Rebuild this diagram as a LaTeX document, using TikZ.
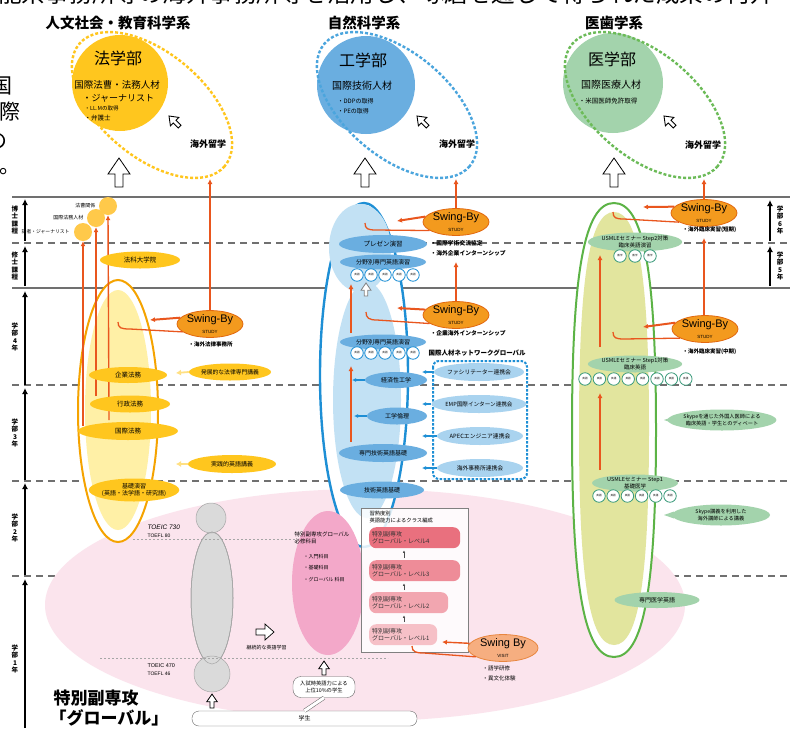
\documentclass[tikz,border=0pt]{standalone}
\usepackage{fontspec}
\setmainfont{Noto Sans CJK JP}
\newfontfamily\latinf{Liberation Sans}
\usetikzlibrary{shapes.geometric,arrows.meta}
\definecolor{lawY}{HTML}{FFC61E}
\definecolor{lawC}{HTML}{FFC94A}
\definecolor{lawO}{HTML}{F5A300}
\definecolor{lawL}{HTML}{FFF0A6}
\definecolor{oraL}{HTML}{E9561E}
\definecolor{swF}{HTML}{F39A1E}
\definecolor{swD}{HTML}{E2680F}
\definecolor{swV}{HTML}{F6AE80}
\definecolor{engB}{HTML}{6AAEE0}
\definecolor{engD}{HTML}{1E8FD5}
\definecolor{engL}{HTML}{C2E1F4}
\definecolor{engM}{HTML}{A9D3EF}
\definecolor{medG}{HTML}{A3D3AC}
\definecolor{medD}{HTML}{5CB346}
\definecolor{medT}{HTML}{3A9A7A}
\definecolor{medL}{HTML}{E2E59E}
\definecolor{pinkBg}{HTML}{FBE4ED}
\definecolor{pinkM}{HTML}{F3A8C9}
\definecolor{lineG}{HTML}{707070}
\definecolor{grayP}{HTML}{DADADA}
\definecolor{redA}{HTML}{E9707E}
\definecolor{redB}{HTML}{EE8C98}
\definecolor{redC}{HTML}{F2A6B0}
\definecolor{redD}{HTML}{F6C0C7}
\newcommand\myfs[2]{\fontsize{#1}{#2}\selectfont}
% #1 options, #2 cx, #3 top, #4 bottom, #5 half width, #6 squareness
\newcommand\ushape[6]{\path[#1] ({#2-#5},{(#3+#4)/2}) .. controls ({#2-#5},{(#3+#4)/2-#6*(#4-#3)/2}) and ({#2-#6*#5},{#3}) .. ({#2},{#3}) .. controls ({#2+#6*#5},{#3}) and ({#2+#5},{(#3+#4)/2-#6*(#4-#3)/2}) .. ({#2+#5},{(#3+#4)/2}) .. controls ({#2+#5},{(#3+#4)/2+#6*(#4-#3)/2}) and ({#2+#6*#5},{#4}) .. ({#2},{#4}) .. controls ({#2-#6*#5},{#4}) and ({#2-#5},{(#3+#4)/2+#6*(#4-#3)/2}) .. cycle;}
\tikzset{
 hline/.style={lineG, line width=1.6pt},
 dline/.style={lineG, line width=1.6pt, dash pattern=on 7pt off 5pt},
 axisarr/.style={line width=2.2pt, -{Latex[length=6pt,width=6pt]}},
 el/.style n args={2}{ellipse, inner sep=0pt, minimum width=#1, minimum height=#2, align=center},
 oarr/.style={oraL, line width=2pt, -{Latex[length=5pt,width=5pt]}},
 ohook/.style={oraL, line width=1.3pt},
 barr/.style={engD, line width=1.5pt, -{Latex[length=4pt,width=4pt]}},
 swing/.style={ellipse, fill=swF, draw=swD, line width=0.8pt, minimum width=66, minimum height=24, inner sep=0pt, align=center},
 dashell/.style={line width=2.4pt, dash pattern=on 3pt off 2pt},
 bigcirc/.style={circle, inner sep=0pt},
 smc/.style={circle, fill=white, minimum size=12.5, inner sep=0pt, line width=0.8pt, font=\myfs{2.6}{3}},
 rbox/.style={rounded corners=7, anchor=north west, inner xsep=3pt, inner ysep=1pt, align=left, font=\myfs{6}{7.5}, text=black!80},
 vlab/.style={align=center, font=\myfs{6.5}{7.2}\bfseries},
 hdr/.style={font=\myfs{14.5}{16}\bfseries},
 ryu/.style={font=\myfs{9}{10}\bfseries},
 hup/.pic={\draw[fill=white, line width=0.8pt] (-4,0) -- (-4,-13) -- (-11,-13) -- (0,-29) -- (11,-13) -- (4,-13) -- (4,0) -- cycle;},
 hright/.pic={\draw[fill=white, line width=0.7pt] (0,-3) -- (9,-3) -- (9,-8) -- (18,0) -- (9,8) -- (9,3) -- (0,3) -- cycle;},
 cursor/.pic={\draw[fill=white, line width=0.9pt] (0,0) -- (6,8) -- (2,8) -- (2,15) -- (-2,15) -- (-2,8) -- (-6,8) -- cycle;},
 smarr/.style={gray!60!black, line width=0.6pt, -{Latex[length=2.5pt,width=2.5pt]}}
}
\begin{document}
\begin{tikzpicture}[x=1pt,y=-1pt]
\useasboundingbox (0,0) rectangle (795,734);
\fill[white] (0,0) rectangle (795,734);
\clip (0,0) rectangle (795,734);

% cut-off text of the page behind
\node[font=\myfs{23.5}{25}, anchor=base west, inner sep=0pt] (toptxt) at (-2,2.5) {能系事務所等の海外事務所等を活用し、啄磨を通じて得られた成果の何升};
\node[font=\myfs{21}{22}, anchor=east, inner sep=0pt] (lc1) at (13,86) {国};
\node[font=\myfs{21}{22}, anchor=east, inner sep=0pt] (lc2) at (21,112) {際};
\node[font=\myfs{21}{22}, anchor=east, inner sep=0pt] (lc3) at (8,141) {の};
\node[font=\myfs{21}{22}, anchor=east, inner sep=0pt] (lc4) at (21,170) {ー。};

% headers
\node[hdr] (h1) at (118,23) {人文社会・教育科学系};
\node[hdr] (h2) at (364,23) {自然科学系};
\node[hdr] (h3) at (614,23) {医歯学系};

% horizontal lines
\draw[hline] (12,197) -- (790,197);
\draw[dline] (12,243) -- (790,243);
\draw[hline] (12,288) -- (790,288);
\draw[dline] (12,385) -- (790,385);
\draw[dline] (12,481) -- (790,481);
\draw[dline] (12,576) -- (790,576);

% axes
\draw[axisarr] (25,241) -- (25,199);
\draw[axisarr] (25,286) -- (25,246);
\draw[axisarr] (25,385) -- (25,291);
\draw[axisarr] (25,480) -- (25,388);
\draw[axisarr] (25,575) -- (25,483);
\draw[axisarr] (25,728) -- (25,579);
\node[vlab] (ax1) at (15,220) {博\\士\\課\\程};
\node[vlab] (ax2) at (15,266) {修\\士\\課\\程};
\node[vlab] (ax3) at (15,337) {学\\部\\4\\年};
\node[vlab] (ax4) at (15,433) {学\\部\\3\\年};
\node[vlab] (ax5) at (15,528) {学\\部\\2\\年};
\node[vlab] (ax6) at (15,659) {学\\部\\1\\年};
\draw[axisarr] (770,241) -- (770,200);
\draw[axisarr] (770,286) -- (770,246);
\node[vlab] (ax7) at (780,220) {学\\部\\6\\年};
\node[vlab] (ax8) at (780,266) {学\\部\\5\\年};

% ===== top goals =====
\node[bigcirc, fill=lawY, minimum size=96] (lawc) at (120,83) {};
\node[bigcirc, fill=engB, minimum size=98] (engc) at (366,85) {};
\node[bigcirc, fill=medG, minimum size=100] (medc) at (613,83) {};
\draw[dashell, lawY, rotate around={-40:(152,105)}] (152,105) ellipse (95 and 52);
\draw[dashell, engD!80, rotate around={-40:(397,105)}] (397,105) ellipse (95 and 52);
\draw[dashell, medD!90, rotate around={-40:(645,105)}] (645,105) ellipse (95 and 52);
\node[font=\myfs{16}{17}] (lawt) at (118,58) {法学部};
\node[font=\myfs{9.5}{10}] (lawt2) at (117,85) {国際法曹・法務人材};
\node[font=\myfs{9}{10}, anchor=west] (lawt3) at (79,98) {・ジャーナリスト};
\node[font=\myfs{5.5}{6}, anchor=west] (lawt4) at (81,108) {・LL.Mの取得};
\node[font=\myfs{6.5}{7}, anchor=west] (lawt5) at (81,118) {・弁護士};
\node[font=\myfs{16}{17}] (engt) at (363,60) {工学部};
\node[font=\myfs{10}{11}] (engt2) at (362,86) {国際技術人材};
\node[font=\myfs{6}{7}, anchor=west] (engt3) at (334,101) {・DDPの取得};
\node[font=\myfs{6}{7}, anchor=west] (engt4) at (334,111) {・PEの取得};
\node[font=\myfs{16}{17}] (medt) at (612,59) {医学部};
\node[font=\myfs{10}{11}] (medt2) at (611,85) {国際医療人材};
\node[font=\myfs{6.5}{7}] (medt3) at (608,101) {・米国医師免許取得};
\pic[rotate=45] at (169,116) {cursor};
\pic[rotate=45] at (417,116) {cursor};
\pic[rotate=45] at (664,116) {cursor};
\node[ryu] (ry1) at (208,144) {海外留学};
\node[ryu] (ry2) at (457,144) {海外留学};
\node[ryu] (ry3) at (703,145) {海外留学};
\pic at (119,187) {hup};
\pic at (365,187) {hup};
\pic at (614,187) {hup};

% ===== big pink ellipse =====
\fill[pinkBg] (365,605) ellipse (320 and 116);

% ===== LAW column =====
\draw[lawO, line width=2pt, fill=white] (118,411) ellipse (40 and 131);
\fill[lawL] (118,410) ellipse (33 and 120);
\node[bigcirc, fill=lawC, minimum size=18] (lc1c) at (108,206) {};
\node[bigcirc, fill=lawC, minimum size=18] (lc2c) at (96,218) {};
\node[bigcirc, fill=lawC, minimum size=18] (lc3c) at (83,232) {};
\node[font=\myfs{5}{6}, anchor=east] (lc1t) at (99,206) {法曹関係};
\node[font=\myfs{5}{6}, anchor=east] (lc2t) at (87,218) {国際法務人材};
\node[font=\myfs{4.8}{6}, anchor=east] (lc3t) at (73,232) {記者・ジャーナリスト};
\coordinate (ls1) at (109,420);
\coordinate (ls2) at (96,396);
\coordinate (ls3) at (83,426);
\draw[oarr, line width=1.4pt] (ls1) -- (lc1c.south);
\draw[oarr, line width=1.4pt] (ls2) -- (lc2c.south);
\draw[oarr, line width=1.4pt] (ls3) -- (lc3c.south);
\node[el={80}{17}, fill=lawY, font=\myfs{6.5}{7}] (lg) at (140,260) {法科大学院};
\node[el={78}{16}, fill=lawY, font=\myfs{6.5}{7}] (l1) at (128,375) {企業法務};
\node[el={80}{17}, fill=lawY, font=\myfs{6.5}{7}] (l2) at (130,404) {行政法務};
\node[el={100}{18}, fill=lawY, font=\myfs{6.5}{7}] (l3) at (128,431) {国際法務};
\node[el={86}{23}, fill=lawY, font=\myfs{6}{7}] (l4) at (134,490) {基礎演習\\(英語・法学語・研究語)};
\node[el={80}{17}, fill=lawY, font=\myfs{5.8}{7}] (l5) at (230,372) {発展的な法律専門講義};
\node[el={88}{18}, fill=lawY, font=\myfs{6}{7}] (l6) at (232,464) {実践的英語講義};
\coordinate (l5t) at (176,373);
\coordinate (l6t) at (176,464);
\draw[lawY!55, line width=1.8pt, -{Latex[length=5pt,width=6pt]}] (l5.west) -- (l5t);
\draw[lawY!55, line width=1.8pt, -{Latex[length=5pt,width=6pt]}] (l6.west) -- (l6t);
\node[swing] (swL) at (210,324) {\latinf\myfs{11}{11}Swing-By\\[-1pt]\latinf\myfs{4.5}{5}STUDY};
\node[font=\myfs{5.5}{6}\bfseries, anchor=west] (swLt) at (185,344) {・海外法律事務所};
\coordinate (lawtop) at (210,179);
\coordinate (lawin) at (150,320);
\coordinate (lawhk) at (118,322);
\draw[oarr] (swL.north) -- (lawtop);
\draw[oarr] (swL.168) -- (lawin);
\draw[ohook] (lawhk) .. controls (118,328) and (121,329) .. (130,329) -- (swL.196);

% ===== ENGINEERING column =====
\draw[engD, line width=2.4pt, fill=white] (364,375) ellipse (44 and 172);
\fill[engL] (360,248) ellipse (31 and 44);
\fill[engL] (367,400) ellipse (34 and 118);
\coordinate (eo1) at (351,333);
\coordinate (eo1t) at (351,284);
\coordinate (eo2) at (351,442);
\coordinate (eo2t) at (351,366);
\draw[oarr, line width=1.4pt] (eo1) -- (eo1t);
\draw[oarr, line width=1.4pt] (eo2) -- (eo2t);
\node[el={88}{18}, fill=engB, font=\myfs{6.5}{7}] (e1) at (383,244) {プレゼン演習};
\node[el={86}{15}, fill=engB, font=\myfs{6}{7}] (e2) at (383,262) {分野別専門英語演習};
\foreach \x [count=\i] in {357,371,385,399,413} \node[smc, draw=engD] (ec1\i) at (\x,275) {英語};
\pic[scale=0.45, gray] at (366,296) {hup};
\node[el={86}{15}, fill=engB, font=\myfs{6}{7}] (e3) at (383,342) {分野別専門英語演習};
\foreach \x [count=\i] in {357,371,385,399,413} \node[smc, draw=engD] (ec2\i) at (\x,353) {英語};
\node[el={62}{16}, fill=engB, font=\myfs{6}{7}] (e4) at (396,380) {経済性工学};
\node[el={60}{17}, fill=engB, font=\myfs{6}{7}] (e5) at (397,416) {工学倫理};
\node[el={88}{18}, fill=engB, font=\myfs{6}{7}] (e6) at (383,453) {専門技術英語基礎};
\node[el={84}{17}, fill=engB, font=\myfs{6}{7}] (e7) at (382,490) {技術英語基礎};
\coordinate (e4t) at (352,380);
\coordinate (e5t) at (354,416);
\draw[barr] (e4.west) -- (e4t);
\draw[barr] (e5.west) -- (e5t);
\draw[engD, line width=2pt, dash pattern=on 2.5pt off 1.5pt, rounded corners=6] (433,361) rectangle (527,479);
\node[el={86}{18}, fill=engM, font=\myfs{5.8}{7}] (b1) at (479,372) {ファシリテーター連携会};
\node[el={86}{18}, fill=engM, font=\myfs{5.6}{7}] (b2) at (479,404) {EMP国際インターン連携会};
\node[el={86}{18}, fill=engM, font=\myfs{5.8}{7}] (b3) at (480,436) {APECエンジニア連携会};
\node[el={86}{18}, fill=engM, font=\myfs{5.8}{7}] (b4) at (480,468) {海外事務所連携会};
\coordinate (b1t) at (422,372);
\coordinate (b2t) at (422,404);
\coordinate (b3t) at (422,436);
\coordinate (b4t) at (422,468);
\draw[barr] (b1.west) -- (b1t);
\draw[barr] (b2.west) -- (b2t);
\draw[barr] (b3.west) -- (b3t);
\draw[barr] (b4.west) -- (b4t);
\node[swing] (swE1) at (456,222) {\latinf\myfs{11}{11}Swing-By\\[-1pt]\latinf\myfs{4.5}{5}STUDY};
\node[swing] (swE2) at (456,315) {\latinf\myfs{11}{11}Swing-By\\[-1pt]\latinf\myfs{4.5}{5}STUDY};
\coordinate (engtop) at (456,179);
\coordinate (engmid) at (456,262);
\draw[oarr] (swE1.north) -- (engtop);
\draw[oarr] (swE2.north) -- (engmid);
\coordinate (ein1) at (397,221);
\coordinate (ehk1) at (365,223);
\coordinate (ein2) at (397,308);
\coordinate (ehk2) at (366,312);
\draw[oarr] (swE1.170) -- (ein1);
\draw[ohook] (ehk1) .. controls (365,229) and (368,230) .. (376,230) -- (swE1.198);
\draw[oarr] (swE2.170) -- (ein2);
\draw[ohook] (ehk2) .. controls (366,318) and (369,320) .. (377,320) -- (swE2.198);
\node[font=\myfs{5.8}{6}\bfseries, anchor=west] (et1) at (427,243) {・国際学術交流協定};
\node[font=\myfs{5.8}{6}\bfseries, anchor=west] (et2) at (427,253) {・海外企業インターンシップ};
\node[font=\myfs{5.8}{6}\bfseries, anchor=west] (et3) at (427,333) {・企業海外インターンシップ};
\node[font=\myfs{6.5}{7}\bfseries, anchor=west] (et4) at (425,353) {国際人材ネットワークグローバル};

% ===== MEDICAL column =====
\ushape{draw=medD, line width=2pt, fill=white}{614}{203}{657}{42}{0.7}
\ushape{fill=medL}{614}{212}{645}{35}{0.7}
\coordinate (mo1) at (600,347);
\coordinate (mo1t) at (600,255);
\coordinate (mo2) at (600,470);
\coordinate (mo2t) at (600,393);
\draw[oarr, line width=1.4pt] (mo1) -- (mo1t);
\draw[oarr, line width=1.4pt] (mo2) -- (mo2t);
\node[el={90}{19}, fill=medG, font=\myfs{5.5}{6.3}] (m1) at (635,242) {USMLEセミナー Step2対策\\臨床英語演習};
\foreach \x [count=\i] in {620,635,650} \node[smc, draw=medT] (mc1\i) at (\x,256) {医学};
\node[el={86}{17}, fill=medG, font=\myfs{5.5}{6.3}] (m2) at (635,364) {USMLEセミナー Step1対策\\臨床英語};
\foreach \x [count=\i] in {585,599.4,613.8,628.2,642.6,657,671.4,685.8} \node[smc, draw=medT] (mc2\i) at (\x,379) {英語};
\node[el={86}{17}, fill=medG, font=\myfs{5.5}{6.3}] (m3) at (635,483) {USMLEセミナー Step1\\基礎医学};
\foreach \x [count=\i] in {599,613.2,627.4,641.6,655.8,670} \node[smc, draw=medT] (mc3\i) at (\x,496) {英語};
\node[el={85}{16}, fill=medG, font=\myfs{6}{7}] (m4) at (657,600) {専門医学英語};
\node[el={100}{21}, fill=medG, font=\myfs{5.2}{6.2}] (sk1) at (722,420) {Skypeを通じた外国人医師による\\臨床英語・学生とのディベート};
\node[el={98}{21}, fill=medG, font=\myfs{5.2}{6.2}] (sk2) at (721,515) {Skype講義を利用した\\海外講師による講義};
\fill[medG] (674,416.5) -- (664,420) -- (674,423.5) -- cycle;
\fill[medG] (674,511.5) -- (664,515) -- (674,518.5) -- cycle;
\node[swing] (swM1) at (704,213) {\latinf\myfs{11}{11}Swing-By\\[-1pt]\latinf\myfs{4.5}{5}STUDY};
\node[swing] (swM2) at (705,329) {\latinf\myfs{11}{11}Swing-By\\[-1pt]\latinf\myfs{4.5}{5}STUDY};
\coordinate (medtop) at (704,179);
\coordinate (medmid) at (704,238);
\draw[oarr] (swM1.north) -- (medtop);
\draw[oarr] (swM2.north -| medmid) -- (medmid);
\coordinate (min1) at (643,207);
\coordinate (mhk1) at (613,212);
\coordinate (min2) at (643,327);
\coordinate (mhk2) at (613,332);
\draw[oarr] (swM1.168) -- (min1);
\draw[ohook] (mhk1) .. controls (613,218) and (616,219) .. (624,219) -- (swM1.200);
\draw[oarr] (swM2.168) -- (min2);
\draw[ohook] (mhk2) .. controls (613,338) and (616,339) .. (624,339) -- (swM2.200);
\node[font=\myfs{5.5}{6}\bfseries, anchor=west] (mt1) at (679,230) {・海外臨床実習(短期)};
\node[font=\myfs{5.5}{6}\bfseries, anchor=west] (mt2) at (679,352) {・海外臨床実習(中期)};

% ===== bottom: special minor =====
\fill[grayP, draw=gray!70, line width=0.5pt] (212,598) ellipse (21 and 66);
\fill[grayP, draw=gray!70, line width=0.5pt] (211,518) circle (15);
\draw[gray!70, line width=0.5pt] (212,598) ellipse (21 and 66);
\fill[grayP, draw=gray!70, line width=0.5pt] (212,674) circle (18);
\draw[gray!70, line width=0.5pt] (212,598) ellipse (21 and 66);
\draw[gray!70, dash pattern=on 2pt off 2pt, line width=0.6pt] (133,539) -- (296,539);
\draw[gray!70, dash pattern=on 2pt off 2pt, line width=0.6pt] (100,658) -- (388,658);
\node[font=\latinf\itshape\myfs{6.5}{7}, anchor=west] (toe1) at (144,527) {TOEIC 730};
\node[font=\latinf\myfs{5}{6}, anchor=west] (toe2) at (144,536) {TOEFL 80};
\node[font=\latinf\myfs{5.5}{6}, anchor=west] (toe3) at (144,666) {TOEIC 470};
\node[font=\latinf\myfs{5}{6}, anchor=west] (toe4) at (144,674) {TOEFL 46};
\pic at (256,632) {hright};
\node[font=\myfs{5}{6}, anchor=west] (keizoku) at (243,648) {継続的な英語学習};

\fill[pinkM] (328,583) ellipse (36 and 72);
\node[font=\myfs{5.5}{6.5}, anchor=west, align=left] (pm1) at (291,538) {特別副専攻グローバル\\必修科目};
\node[font=\myfs{5}{6}, anchor=west] (pm2) at (300,557) {・入門科目};
\node[font=\myfs{5}{6}, anchor=west] (pm3) at (300,568) {・基礎科目};
\node[font=\myfs{5}{6}, anchor=west] (pm4) at (300,580) {・グローバル 科目};

\draw[gray, line width=0.7pt, fill=white, fill opacity=0.85] (361,508) rectangle (468,652);
\node[font=\myfs{5.3}{6.5}, anchor=north west, align=left] (cls) at (366,508) {習熟度別\\英語能力によるクラス編成};
\node[rbox, fill=redA, text width=85, minimum height=21] (lv4) at (369,527) {特別副専攻\\グローバル・レベル4};
\node[rbox, fill=redB, text width=85, minimum height=21] (lv3) at (369,560) {特別副専攻\\グローバル・レベル3};
\node[rbox, fill=redC, text width=73, minimum height=21] (lv2) at (369,592) {特別副専攻\\グローバル・レベル2};
\node[rbox, fill=redD, text width=62, minimum height=21] (lv1) at (369,624) {特別副専攻\\グローバル・レベル1};
\draw[smarr] ([xshift=35pt,yshift=2pt]lv3.north west) -- ([xshift=35pt,yshift=-2pt]lv4.south west);
\draw[smarr] ([xshift=35pt,yshift=2pt]lv2.north west) -- ([xshift=35pt,yshift=-2pt]lv3.south west);
\draw[smarr] ([xshift=35pt,yshift=2pt]lv1.north west) -- ([xshift=35pt,yshift=-2pt]lv2.south west);

\node[swing, fill=swV, draw=swD!80, minimum width=70, minimum height=25] (swV) at (503,648) {\latinf\myfs{11}{11}Swing By\\[-1pt]\latinf\myfs{4.5}{5}VISIT};
\coordinate (vin) at (442,642);
\coordinate (vhk) at (412,646);
\draw[oarr, line width=1.4pt] (swV.172) -- (vin);
\draw[ohook] (vhk) .. controls (412,652) and (416,653) .. (424,653) -- (swV.198);
\node[font=\myfs{5.5}{6}, anchor=west] (vt1) at (479,668) {・語学研修};
\node[font=\myfs{5.5}{6}, anchor=west] (vt2) at (479,678) {・異文化体験};

\node[draw=gray!80!black, fill=white, rounded corners=7, minimum width=225, minimum height=15, inner sep=0pt, font=\myfs{6}{6}] (bar) at (304.5,718.5) {学生};
\node[draw=gray!80!black, fill=white, rounded corners=8, minimum width=62, minimum height=21, inner sep=1pt, align=center, font=\myfs{5.3}{6.3}] (entr) at (324,687) {入試時英語力による\\上位10\%の学生};
\draw[gray!80!black, double=white, double distance=3pt, line width=0.5pt] (entr.south) -- (bar.north);
\pic[scale=0.48] at (324,675) {hup};
\pic[scale=0.48] at (212,708) {hup};

\node[font=\myfs{17}{19}\bfseries, anchor=west] (tok1) at (50,698) {特別副専攻};
\node[font=\myfs{17}{19}\bfseries, anchor=west] (tok2) at (46,718) {「グローバル」};
\end{tikzpicture}
\end{document}
